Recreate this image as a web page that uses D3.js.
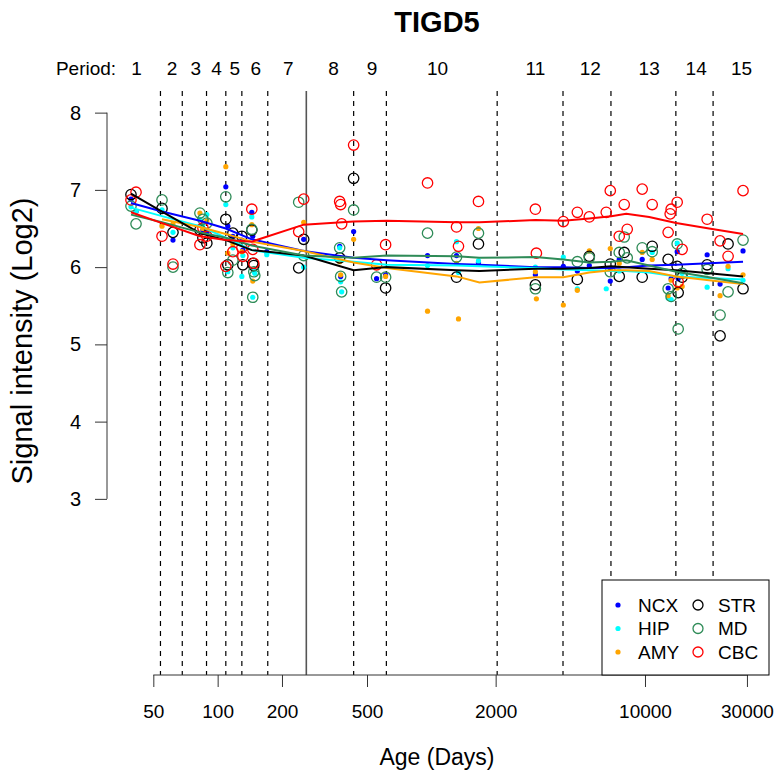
<!DOCTYPE html>
<html>
<head>
<meta charset="utf-8">
<script src="https://cdn.jsdelivr.net/npm/d3@7"></script>
<style>
body { margin: 0; background: #fff; }
svg text { font-family: "Liberation Sans", Arial, Helvetica, sans-serif; fill: #000; }
</style>
</head>
<body>
<div id="chart"></div>
<script>
// sample ages (days) -- one entry per brain
var ages = [39.3, 41.5, 54.9, 61.8, 82.6, 85.3, 89.0, 109.2, 111.6, 117.8,
  129.8, 131.2, 144.5, 146.0, 147.6, 149.2, 169.8, 239.5, 252.8, 372.4,
  376.4, 380.5, 432.9, 554.3, 611, 960, 1312, 1340, 1662, 3069,
  3102, 4148, 4823, 5487, 6586, 6879, 7577, 7994, 8257, 9703,
  10806, 12834, 13117, 13255, 14146, 14297, 14922, 19537, 22458, 24480, 28760];

var ncx = [6.88, 6.72, null, 6.35, null, 6.48, 6.45, 7.04, 6.53, 6.40,
  6.35, 6.22, 6.71, 6.40, null, null, 6.20, null, 6.36, 6.27,
  5.88, null, 6.46, 5.85, 5.90, 6.15, 6.15, null, 6.06, 5.90,
  null, 6.01, 5.95, 6.02, null, 5.82, 6.10, null, null, 6.10,
  null, 5.73, null, 5.85, 6.20, 5.85, null, 6.16, 5.78, null, 6.21];
var hip = [6.78, 6.72, 6.74, 6.45, 6.62, 6.55, 6.68, 6.81, 5.94, 6.25,
  5.88, 6.15, 6.65, 5.61, 5.95, 5.92, 6.16, null, 6.00, 6.25,
  5.81, 5.68, null, null, null, 6.02, 6.33, 5.93, 6.08, 6.00,
  null, 6.13, 5.72, null, 5.72, 5.98, 5.95, null, null, null,
  6.19, 5.60, null, 5.58, 6.31, null, 5.92, 5.74, null, 5.98, 5.83];
var amy = [null, null, 6.53, 6.56, 6.70, 6.50, 6.60, 7.30, 6.18, 6.30,
  6.20, null, 6.55, 5.82, null, null, null, null, 6.58, 6.07,
  5.90, null, 6.36, null, 5.88, 5.43, 6.05, 5.33, 6.50, 5.94,
  5.59, 5.51, 5.70, 6.21, null, 6.24, 6.05, null, null, 6.19,
  6.10, 5.63, null, 5.83, 5.73, null, 5.75, null, 5.63, 6.01, 5.90];
var str = [6.94, null, 6.76, 6.45, 6.48, 6.38, 6.31, 6.62, 6.03, 6.44,
  6.40, 6.03, 6.48, 6.05, 6.02, null, null, 5.99, 6.36, 6.12,
  null, null, 7.15, null, 5.73, null, 5.87, null, 6.30, 5.77,
  null, null, 5.84, 6.14, null, 6.04, 5.88, 6.19, null, 5.87,
  6.27, 6.10, null, null, 6.01, 5.67, 5.87, 6.03, 5.11, 6.30, 5.72];
var md = [6.79, 6.56, 6.87, 6.00, 6.70, 6.62, 6.57, 6.91, 5.93, 6.09,
  null, null, 6.49, 5.61, 5.94, 5.89, null, 6.84, 6.15, 6.25,
  5.88, 5.68, 6.74, 5.87, 5.87, 6.44, 6.13, null, 6.44, 5.72,
  null, null, 6.07, 6.12, null, 5.94, 6.19, 6.39, 6.12, 6.25,
  6.20, 5.72, null, 5.62, 6.30, 5.20, 5.92, 5.97, 5.38, 5.68, 6.35];
var cbc = [6.87, 6.97, 6.40, 6.04, 6.29, 6.51, 6.40, 6.01, null, 6.20,
  6.25, 6.14, 6.75, 6.23, 6.05, null, null, 6.46, 6.88, 6.85,
  6.81, 6.56, 7.58, 6.03, 6.29, 7.09, 6.52, 6.27, 6.85, 6.75,
  6.18, 6.59, 6.71, 6.65, 6.71, 6.99, 6.40, 6.81, 6.49, 7.01,
  6.81, 6.45, 6.69, 6.75, 6.84, 5.81, 6.23, 6.62, 6.34, 6.14, 6.99];

// smoothed curves, read at these ages
var fitAges = [39.3, 54.9, 82.6, 109.2, 144.5, 252.8, 432.9, 618, 1312, 1680,
  3069, 4148, 5487, 6950, 8170, 10460, 13990, 19950, 28760];
var fitNcx = [6.83, 6.72, 6.60, 6.50, 6.36, 6.21, 6.12, 6.09, 6.04, 6.03, 6.00, 6.00, 5.99, 5.99, 6.00, 6.02, 6.03, 6.05, 6.07];
var fitHip = [6.77, 6.66, 6.53, 6.38, 6.22, 6.12, 6.07, 6.03, 6.02, 6.01, 5.99, 5.97, 5.96, 5.95, 5.95, 5.93, 5.88, 5.86, 5.84];
var fitAmy = [null, 6.62, 6.52, 6.43, 6.33, 6.21, 6.06, 5.99, 5.88, 5.80, 5.87, 5.87, 5.93, 5.96, 5.96, 5.95, 5.88, 5.83, 5.78];
var fitStr = [6.95, 6.72, 6.44, 6.35, 6.22, 6.15, 5.96, 6.00, 5.96, 5.95, 5.98, 5.98, 5.99, 6.01, 6.00, 5.98, 5.96, 5.92, 5.88];
var fitMd = [6.68, 6.58, 6.45, 6.38, 6.28, 6.15, 6.12, 6.15, 6.14, 6.12, 6.13, 6.10, 6.06, 6.07, 6.09, 6.02, 5.94, 5.87, 5.79];
var fitCbc = [6.71, 6.57, 6.40, 6.35, 6.33, 6.55, 6.59, 6.60, 6.58, 6.58, 6.61, 6.60, 6.63, 6.66, 6.69, 6.65, 6.57, 6.50, 6.43];

// period boundaries (days); birth drawn solid
var periodBreaks = [54, 68.3, 88.7, 109.2, 129.8, 171.6, 433, 616, 2033, 4133, 6929, 13946, 20829];
var birth = 260;
var periodLabels = ["1", "2", "3", "4", "5", "6", "7", "8", "9", "10", "11", "12", "13", "14", "15"];
var periodLabelAges = [41.7, 61.1, 79.1, 98.9, 120.3, 150.8, 214, 349, 528, 1069, 3069, 5545, 10462, 17354, 28300];

var xTicks = [50, 100, 200, 500, 2000, 10000, 30000];
var yTicks = [3, 4, 5, 6, 7, 8];

var regions = [
  {name: "NCX", vals: ncx, fit: fitNcx, col: "#0000ff", dot: true},
  {name: "HIP", vals: hip, fit: fitHip, col: "#00ffff", dot: true},
  {name: "AMY", vals: amy, fit: fitAmy, col: "#ffa500", dot: true},
  {name: "STR", vals: str, fit: fitStr, col: "#000000", dot: false},
  {name: "MD", vals: md, fit: fitMd, col: "#2e8b57", dot: false},
  {name: "CBC", vals: cbc, fit: fitCbc, col: "#ff0000", dot: false}
];

var width = 774, height = 775;
var svg = d3.select("#chart").append("svg")
  .attr("width", width).attr("height", height);

var x = d3.scaleLog().domain([30.35, 37640]).range([107, 768]);
var y = d3.scaleLinear().domain([0.72, 8.28]).range([675, 91]);

var plotTop = y.range()[1], plotBottom = y.range()[0];

// period lines
svg.append("g").selectAll("line")
  .data(periodBreaks)
  .enter().append("line")
  .attr("x1", function(d) { return x(d); })
  .attr("x2", function(d) { return x(d); })
  .attr("y1", plotTop).attr("y2", plotBottom)
  .attr("stroke", "#000")
  .attr("stroke-width", 1.2)
  .attr("stroke-dasharray", "5,5");

svg.append("line")
  .attr("x1", x(birth)).attr("x2", x(birth))
  .attr("y1", plotTop).attr("y2", plotBottom)
  .attr("stroke", "#555")
  .attr("stroke-width", 1.6);

// period labels
svg.append("text")
  .attr("x", 86).attr("y", 68)
  .attr("dy", "0.35em")
  .attr("text-anchor", "middle")
  .style("font-size", "19px")
  .text("Period:");
svg.append("g").selectAll("text")
  .data(periodLabels)
  .enter().append("text")
  .attr("x", function(d, i) { return x(periodLabelAges[i]); })
  .attr("y", 68)
  .attr("dy", "0.35em")
  .attr("text-anchor", "middle")
  .style("font-size", "19px")
  .text(function(d) { return d; });

// points
regions.forEach(function(r) {
  var pts = ages.map(function(a, i) { return {a: a, v: r.vals[i]}; })
    .filter(function(d) { return d.v != null; });
  var g = svg.append("g");
  if (r.dot) {
    g.selectAll("circle").data(pts).enter().append("circle")
      .attr("cx", function(d) { return x(d.a); })
      .attr("cy", function(d) { return y(d.v); })
      .attr("r", 2.6)
      .style("fill", r.col);
  } else {
    g.selectAll("circle").data(pts).enter().append("circle")
      .attr("cx", function(d) { return x(d.a); })
      .attr("cy", function(d) { return y(d.v); })
      .attr("r", 5.2)
      .style("fill", "none")
      .style("stroke", r.col)
      .style("stroke-width", 1.3);
  }
});

// smoothed lines
var line = d3.line()
  .defined(function(d) { return d.v != null; })
  .x(function(d) { return x(d.a); })
  .y(function(d) { return y(d.v); });

regions.forEach(function(r) {
  var pts = fitAges.map(function(a, i) { return {a: a, v: r.fit[i]}; });
  svg.append("path")
    .datum(pts)
    .attr("d", line)
    .style("fill", "none")
    .style("stroke", r.col)
    .style("stroke-width", 2);
});

// axes
function customXAxis(g) {
  g.call(d3.axisBottom(x).tickValues(xTicks).tickSize(12).tickPadding(18).tickFormat(d3.format("d")));
  g.select(".domain").remove();
  g.selectAll(".tick line").attr("stroke", "#333");
  g.selectAll(".tick text").style("font-size", "19px").attr("fill", "#000");
  g.append("line")
    .attr("x1", x(xTicks[0])).attr("x2", x(xTicks[xTicks.length - 1]))
    .attr("stroke", "#333");
}
function customYAxis(g) {
  g.call(d3.axisLeft(y).tickValues(yTicks).tickSize(12).tickPadding(14).tickFormat(d3.format("d")));
  g.select(".domain").remove();
  g.selectAll(".tick line").attr("stroke", "#333");
  g.selectAll(".tick text").style("font-size", "20px").attr("fill", "#000");
  g.append("line")
    .attr("y1", y(yTicks[0])).attr("y2", y(yTicks[yTicks.length - 1]))
    .attr("stroke", "#333");
}

svg.append("g")
  .attr("class", "axis axis--x")
  .attr("transform", "translate(0," + plotBottom + ")")
  .call(customXAxis);
svg.append("g")
  .attr("class", "axis axis--y")
  .attr("transform", "translate(" + x.range()[0] + ",0)")
  .call(customYAxis);

// titles
svg.append("text")
  .attr("x", 437).attr("y", 22)
  .attr("dy", "0.35em")
  .attr("text-anchor", "middle")
  .style("font-size", "29px")
  .style("font-weight", "bold")
  .text("TIGD5");
svg.append("text")
  .attr("x", 437).attr("y", 757)
  .attr("dy", "0.35em")
  .attr("text-anchor", "middle")
  .style("font-size", "23px")
  .text("Age (Days)");
svg.append("text")
  .attr("transform", "translate(22,341) rotate(-90)")
  .attr("dy", "0.35em")
  .attr("text-anchor", "middle")
  .style("font-size", "29px")
  .text("Signal intensity (Log2)");

// legend
var lw = 167, lh = 95;
var lx = x.range()[1] + 1 - lw, ly = plotBottom - lh;
var leg = svg.append("g").attr("transform", "translate(" + lx + "," + ly + ")");
leg.append("rect")
  .attr("width", lw).attr("height", lh)
  .style("fill", "#fff")
  .style("stroke", "#000")
  .style("stroke-width", 1);
regions.forEach(function(r, i) {
  var col = Math.floor(i / 3), row = i % 3;
  var sx = 16 + col * 80, sy = 25 + row * 23.5;
  if (r.dot) {
    leg.append("circle").attr("cx", sx).attr("cy", sy).attr("r", 2.6).style("fill", r.col);
  } else {
    leg.append("circle").attr("cx", sx).attr("cy", sy).attr("r", 5)
      .style("fill", "none").style("stroke", r.col).style("stroke-width", 1.3);
  }
  leg.append("text")
    .attr("x", sx + 20).attr("y", sy)
    .attr("dy", "0.35em")
    .style("font-size", "19px")
    .text(r.name);
});
</script>
</body>
</html>
